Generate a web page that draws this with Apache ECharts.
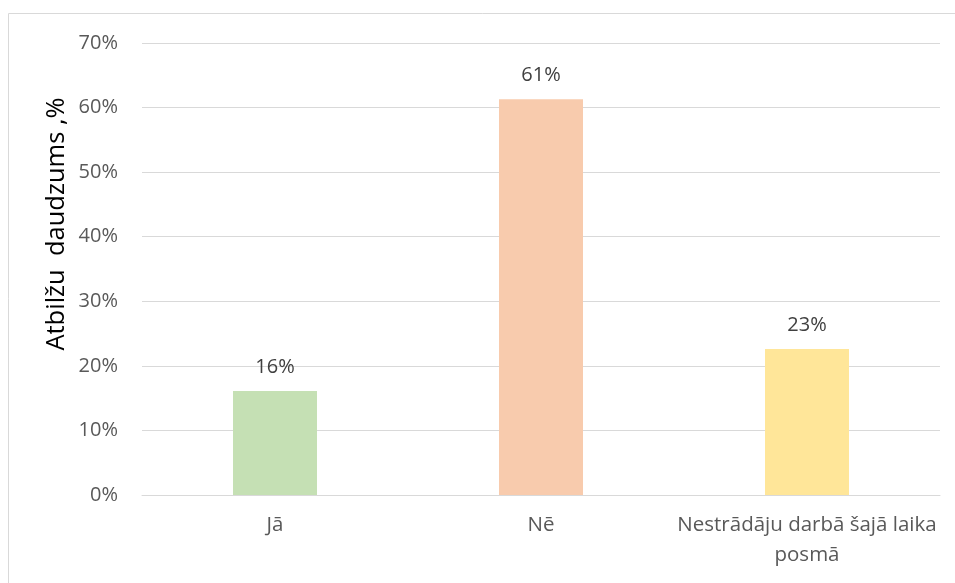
<!DOCTYPE html>
<html>
<head>
<meta charset="utf-8">
<script src="https://cdn.jsdelivr.net/npm/echarts@6/dist/echarts.min.js"></script>
<style>html,body{margin:0;padding:0;background:#fff}#c{width:955px;height:583px}</style>
</head>
<body>
<div id="c"></div>
<script>
const categories = ['Jā', 'Nē', 'Nestrādāju darbā šajā laika\nposmā'];
const values = [16.1, 61.3, 22.6];
const colors = ['#C5E0B4', '#F8CBAD', '#FFE699'];
const yTicks = [0, 10, 20, 30, 40, 50, 60, 70];
const yAxisTitle = 'Atbilžu  daudzums ,%';

const chart = echarts.init(document.getElementById('c'));
const font = '"Open Sans", sans-serif';
chart.setOption({
  animation: false,
  textStyle: { fontFamily: font },
  graphic: [{
    type: 'rect', shape: { x: 8.5, y: 13.5, width: 960, height: 600 },
    style: { fill: 'none', stroke: '#d9d9d9', lineWidth: 1 }, silent: true
  }, {
    type: 'text', x: 57, y: 224, rotation: Math.PI / 2, silent: true,
    style: { text: yAxisTitle, fill: '#000', font: '25.5px "Open Sans", sans-serif',
      textAlign: 'center', textVerticalAlign: 'middle' }
  }],
  grid: { left: 142, right: 15, top: 43, bottom: 88 },
  xAxis: {
    type: 'category', data: categories,
    axisLine: { lineStyle: { color: '#d9d9d9', width: 1 } },
    axisTick: { show: false },
    axisLabel: { color: '#595959', fontSize: 20.5, fontFamily: font, margin: 15, lineHeight: 30, interval: 0 }
  },
  yAxis: {
    type: 'value', min: yTicks[0], max: yTicks[yTicks.length - 1], interval: 10,
    axisLine: { show: false }, axisTick: { show: false },
    axisLabel: { color: '#595959', fontSize: 20, fontFamily: font, margin: 24, formatter: v => v + '%' },
    splitLine: { lineStyle: { color: '#d9d9d9', width: 1 } }
  },
  series: [{
    type: 'bar', barWidth: 84,
    data: values.map((v, i) => ({ value: v, itemStyle: { color: colors[i] } })),
    label: { show: true, position: 'top', distance: 14, color: '#404040', fontSize: 20, fontFamily: font,
      formatter: p => Math.round(p.value) + '%' }
  }]
});
</script>
</body>
</html>
